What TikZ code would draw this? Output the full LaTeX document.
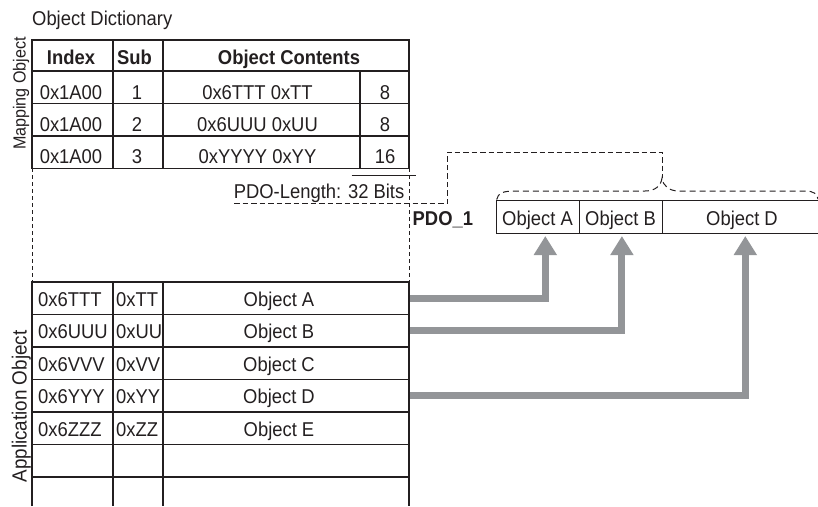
\documentclass[tikz,border=0pt]{standalone}
\usepackage{fontspec}
\setmainfont[FakeStretch=0.92]{Liberation Sans}
\usetikzlibrary{arrows.meta}
\definecolor{ink}{HTML}{231F20}
\definecolor{arr}{HTML}{939598}
\begin{document}
\begin{tikzpicture}[x=1pt,y=-1pt,
  txt/.style={inner sep=0pt, font=\fontsize{20}{24}\selectfont, text=ink},
  hdr/.style={txt, font=\fontsize{20}{24}\selectfont\bfseries},
  grid/.style={draw=ink, line width=1.3pt},
  thin/.style={draw=ink, line width=1pt},
  dsh/.style={draw=ink, line width=1pt, dash pattern=on 5.5pt off 3pt},
  dshv/.style={draw=ink, line width=1pt, dash pattern=on 4pt off 3pt},
  flow/.style={draw=arr, line width=7pt, line join=miter, -{Triangle[width=22pt,length=19pt]}},
  pcell/.style={draw=ink, line width=1pt, minimum height=33pt, inner sep=0pt,
    text height=17pt, text depth=0pt, font=\fontsize{20}{24}\selectfont, text=ink}
]
\useasboundingbox (0,0) rectangle (818,506);

% ---------- arrows (drawn first, table borders over them)
\coordinate (sA) at (409.5,298);
\coordinate (sB) at (409.5,330.5);
\coordinate (sD) at (409.5,395.5);
\coordinate (tA) at (545.3,236);
\coordinate (tB) at (621.9,236);
\coordinate (tD) at (745.3,236);
\draw[flow] (sA) -| (tA);
\draw[flow] (sB) -| (tB);
\draw[flow] (sD) -| (tD);

% ---------- title
\node[txt, anchor=base west] (title) at (32,25) {Object Dictionary};

% ---------- mapping object table
\draw[grid] (32,40) rectangle (409,168.3);
\foreach \yy in {71,103.3,136} \draw[grid] (32,\yy) -- (409,\yy);
\draw[grid] (113,40) -- (113,168.3);
\draw[grid] (163,40) -- (163,168.3);
\draw[grid] (360,71) -- (360,168.3);

\node[hdr, anchor=base] (hIdx) at (71,64) {Index};
\node[hdr, anchor=base] (hSub) at (134.5,64) {Sub};
\node[hdr, anchor=base] (hCon) at (289,64) {Object Contents};

\node[txt, anchor=base] (m1i) at (71,99.3) {0x1A00};
\node[txt, anchor=base] (m1s) at (137,99.3) {1};
\node[txt, anchor=base] (m1c) at (257.5,99.3) {0x6TTT 0xTT};
\node[txt, anchor=base] (m1l) at (385,99.3) {8};
\node[txt, anchor=base] (m2i) at (71,131.7) {0x1A00};
\node[txt, anchor=base] (m2s) at (137,131.7) {2};
\node[txt, anchor=base] (m2c) at (257.5,131.7) {0x6UUU 0xUU};
\node[txt, anchor=base] (m2l) at (385,131.7) {8};
\node[txt, anchor=base] (m3i) at (71,163.8) {0x1A00};
\node[txt, anchor=base] (m3s) at (137,163.8) {3};
\node[txt, anchor=base] (m3c) at (257.5,163.8) {0xYYYY 0xYY};
\node[txt, anchor=base] (m3l) at (385,163.8) {16};

\node[txt, font=\fontsize{17.5}{20}\selectfont, rotate=90, anchor=base] (mapLbl) at (25.5,93.5) {Mapping Object};

% ---------- dashed separators
\draw[dshv] (32,168.3) -- (32,282);
\draw[dshv] (409,168.3) -- (409,282);
\draw[thin] (351.7,175.7) -- (416,175.7);
\node[txt, anchor=base east] (plen) at (404.5,198.3) {PDO-Length: 32 Bits};
\draw[dsh] (234,203.3) -- (447.3,203.3) -- (447.3,152) -- (662,152) -- (662,178);
\draw[dsh, dash pattern=on 6pt off 4pt] (496.7,199.5) .. controls (498,193) and (503,191) .. (515,191)
  -- (645,191) .. controls (655,191) and (661,186) .. (662,178)
  .. controls (663,186) and (669,191) .. (679,191)
  -- (805,191) .. controls (814,191) and (817,194) .. (818,199);

% ---------- PDO
\node[hdr, anchor=base west] (pdo) at (412.5,225.5) {PDO\_1};
\node[pcell, minimum width=83pt] (pA) at (537.5,216.5) {Object A};
\node[pcell, minimum width=83pt] (pB) at (620.5,216.5) {Object B};
\node[pcell, minimum width=160pt] (pD) at (742,216.5) {Object D};

% ---------- application object table
\draw[grid] (32,506) -- (32,282) -- (409,282) -- (409,506);
\foreach \yy in {314.5,347,379.5,412,444.5,477} \draw[grid] (32,\yy) -- (409,\yy);
\draw[grid] (113,282) -- (113,506);
\draw[grid] (163,282) -- (163,506);

\node[txt, anchor=base west] (a1i) at (38,306) {0x6TTT};
\node[txt, anchor=base west] (a1s) at (116,306) {0xTT};
\node[txt, anchor=base] (a1o) at (279,306) {Object A};
\node[txt, anchor=base west] (a2i) at (38,338.5) {0x6UUU};
\node[txt, anchor=base west] (a2s) at (116,338.5) {0xUU};
\node[txt, anchor=base] (a2o) at (279,338.5) {Object B};
\node[txt, anchor=base west] (a3i) at (38,371) {0x6VVV};
\node[txt, anchor=base west] (a3s) at (116,371) {0xVV};
\node[txt, anchor=base] (a3o) at (279,371) {Object C};
\node[txt, anchor=base west] (a4i) at (38,403.5) {0x6YYY};
\node[txt, anchor=base west] (a4s) at (116,403.5) {0xYY};
\node[txt, anchor=base] (a4o) at (279,403.5) {Object D};
\node[txt, anchor=base west] (a5i) at (38,436) {0x6ZZZ};
\node[txt, anchor=base west] (a5s) at (116,436) {0xZZ};
\node[txt, anchor=base] (a5o) at (279,436) {Object E};

\node[txt, font=\fontsize{20.5}{24}\selectfont, rotate=90, anchor=base] (appLbl) at (26.5,406.5) {Application Object};
\end{tikzpicture}
\end{document}
